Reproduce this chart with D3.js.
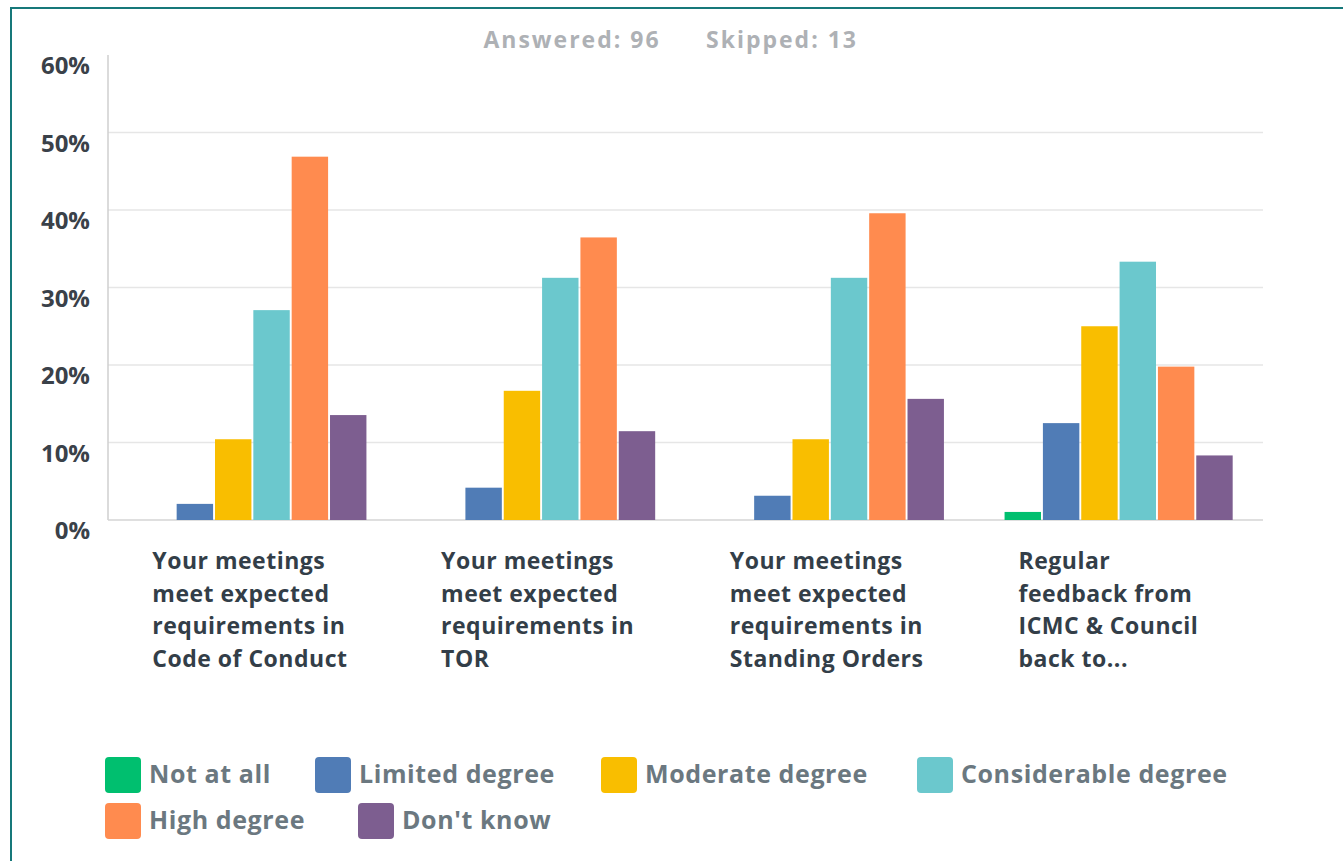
<!DOCTYPE html>
<html><head><meta charset="utf-8">
<script src="https://cdn.jsdelivr.net/npm/d3@7"></script>
<style>
html,body{margin:0;padding:0;background:#fff;}
svg{display:block;font-family:"Open Sans",sans-serif;}
</style></head><body>
<svg id="c" width="1343" height="861"></svg>
<script>
const categories = [
  ["Your meetings","meet expected","requirements in","Code of Conduct"],
  ["Your meetings","meet expected","requirements in","TOR"],
  ["Your meetings","meet expected","requirements in","Standing Orders"],
  ["Regular","feedback from","ICMC & Council","back to..."]
];
const seriesNames = ["Not at all","Limited degree","Moderate degree","Considerable degree","High degree","Don't know"];
const seriesColors = ["#00BF6F","#507CB6","#F9BE00","#6BC8CD","#FF8B4F","#7D5E90"];
const notAtAll     = [0, 0, 0, 1.04];
const limited      = [2.08, 4.17, 3.13, 12.50];
const moderate     = [10.42, 16.67, 10.42, 25.00];
const considerable = [27.08, 31.25, 31.25, 33.33];
const high         = [46.88, 36.46, 39.58, 19.79];
const dontKnow     = [13.54, 11.46, 15.63, 8.33];
const yTicks = [0, 10, 20, 30, 40, 50, 60];
const headerTexts = ["Answered: 96", "Skipped: 13"];

(function(){
const series = [notAtAll, limited, moderate, considerable, high, dontKnow];
const svg = d3.select("#c");

svg.append("path").attr("d","M11,861 V8 H1343").attr("fill","none").attr("stroke","#16787a").attr("stroke-width",2);

const pL = 108, pR = 1263, pT = 55, pB = 520;
const y = d3.scaleLinear().domain([0,60]).range([pB, pB - 60*7.75]);
const x0 = d3.scaleBand().domain(d3.range(4)).range([pL, pR]).paddingInner(0.21).paddingOuter(0.105);
const x1 = d3.scaleBand().domain(d3.range(6)).range([0, x0.bandwidth()]).paddingInner(0.05);

svg.append("g").selectAll("line").data(yTicks.filter(t => t>0 && t<60)).join("line")
  .attr("x1", pL).attr("x2", pR).attr("y1", d=>y(d)).attr("y2", d=>y(d))
  .attr("stroke","#e6e6e6").attr("stroke-width",1.5);

svg.append("line").attr("x1",pL).attr("x2",pL).attr("y1",pT).attr("y2",pB).attr("stroke","#cfcfcf").attr("stroke-width",1.5);
svg.append("line").attr("x1",pL).attr("x2",pR).attr("y1",pB).attr("y2",pB).attr("stroke","#d4d4d4").attr("stroke-width",1.5);

svg.append("g").selectAll("text").data(yTicks).join("text")
  .attr("x", 90).attr("y", d=>y(d)+11).attr("dy","0.35em").attr("text-anchor","end")
  .attr("font-size",24).attr("font-weight",700).attr("fill","#3a4149")
  .text(d=>d+"%");

const groups = svg.append("g").selectAll("g").data(d3.range(4)).join("g")
  .attr("transform", i=>`translate(${x0(i)},0)`);
groups.selectAll("rect").data(i => series.map((s,k)=>({k, v:s[i]}))).join("rect")
  .attr("x", d=>x1(d.k)).attr("width", x1.bandwidth())
  .attr("y", d=>y(d.v)).attr("height", d=>pB - y(d.v))
  .attr("fill", d=>seriesColors[d.k]);

const cl = svg.append("g").selectAll("text").data(categories).join("text")
  .attr("x",(d,i)=>x0(i)+14).attr("y",561)
  .attr("font-size",23).attr("font-weight",700).attr("letter-spacing",0.5).attr("fill","#333e48");
cl.selectAll("tspan").data(d=>d).join("tspan")
  .attr("x", function(){ return this.parentNode.getAttribute("x"); })
  .attr("dy",(d,j)=> j===0 ? "0.35em" : 32.5)
  .text(d=>d);

svg.append("text").attr("x",572).attr("y",40).attr("dy","0.35em").attr("text-anchor","middle")
  .attr("font-size",23).attr("font-weight",700).attr("letter-spacing",2).attr("fill","#aeb1b5").text(headerTexts[0]);
svg.append("text").attr("x",782).attr("y",40).attr("dy","0.35em").attr("text-anchor","middle")
  .attr("font-size",23).attr("font-weight",700).attr("letter-spacing",2).attr("fill","#aeb1b5").text(headerTexts[1]);

const legendPos = [[105,757],[315,757],[601,757],[917,757],[105,803],[358,803]];
const lg = svg.append("g").selectAll("g").data(seriesNames).join("g")
  .attr("transform",(d,i)=>`translate(${legendPos[i][0]},${legendPos[i][1]})`);
lg.append("rect").attr("width",36).attr("height",36).attr("rx",4).attr("fill",(d,i)=>seriesColors[i]);
lg.append("text").attr("x",44).attr("y",17).attr("dy","0.35em")
  .attr("font-size",25).attr("font-weight",700).attr("letter-spacing",0.6).attr("fill","#6b7880").text(d=>d);
})();
</script>
</body></html>
